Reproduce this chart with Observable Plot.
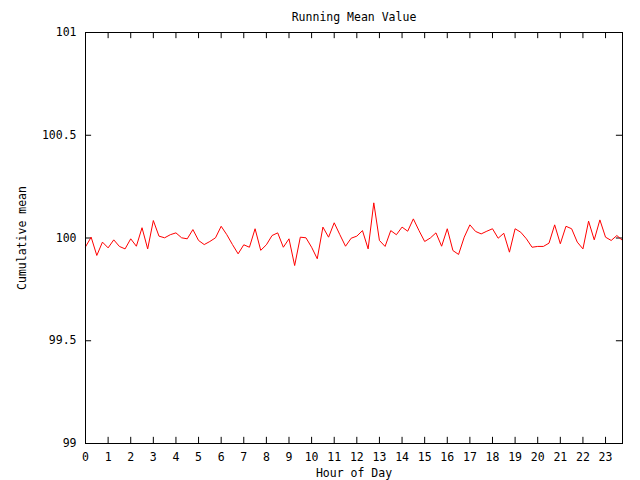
<!DOCTYPE html>
<html><head><meta charset="utf-8">
<script src="https://cdn.jsdelivr.net/npm/d3@7"></script>
<script src="https://cdn.jsdelivr.net/npm/@observablehq/plot@0.6"></script>
<style>body{margin:0;background:#fff} svg{display:block}</style>
</head><body><div id="chart"></div>
<script>
const title = "Running Mean Value";
const xLabel = "Hour of Day";
const yLabel = "Cumulative mean";
const hours = [0,0.25,0.5,0.75,1,1.25,1.5,1.75,2,2.25,2.5,2.75,3,3.25,3.5,3.75,
  4,4.25,4.5,4.75,5,5.25,5.5,5.75,6,6.25,6.5,6.75,7,7.25,7.5,7.75,
  8,8.25,8.5,8.75,9,9.25,9.5,9.75,10,10.25,10.5,10.75,11,11.25,11.5,11.75,
  12,12.25,12.5,12.75,13,13.25,13.5,13.75,14,14.25,14.5,14.75,15,15.25,15.5,15.75,
  16,16.25,16.5,16.75,17,17.25,17.5,17.75,18,18.25,18.5,18.75,19,19.25,19.5,19.75,
  20,20.25,20.5,20.75,21,21.25,21.5,21.75,22,22.25,22.5,22.75,23,23.25,23.5,23.75];
const meanValues = [99.957,100.004,99.915,99.98,99.952,99.991,99.959,99.947,99.996,99.96,100.05,99.947,
  100.085,100.009,100.001,100.016,100.025,100.001,99.996,100.041,99.988,99.968,99.983,100.001,
  100.057,100.016,99.968,99.923,99.967,99.955,100.045,99.94,99.967,100.012,100.025,99.955,
  99.996,99.866,100.004,100.001,99.955,99.899,100.053,100.004,100.074,100.016,99.96,99.999,
  100.009,100.036,99.947,100.171,99.988,99.959,100.036,100.016,100.053,100.033,100.093,100.036,
  99.983,100.0,100.025,99.96,100.045,99.939,99.92,100.004,100.064,100.032,100.02,100.033,
  100.045,99.999,100.023,99.931,100.045,100.028,99.996,99.955,99.959,99.959,99.975,100.064,
  99.972,100.057,100.045,99.98,99.947,100.082,99.991,100.088,100.004,99.988,100.012,99.988];
const xTicks = [0,1,2,3,4,5,6,7,8,9,10,11,12,13,14,15,16,17,18,19,20,21,22,23];
const xTickLabels = ["0","1","2","3","4","5","6","7","8","9","10","11","12","13","14","15","16","17","18","19","20","21","22","23"];
const yTicks = [99, 99.5, 100, 100.5, 101];
const yTickLabels = ["99","99.5","100","100.5","101"];
const xDomain = [0, 23.75];
const yDomain = [99, 101];

const data = hours.map((h, i) => ({hour: h, mean: meanValues[i]}));
const font = "'DejaVu Sans Mono', monospace";
const xTickLen = 0.27, yTickLen = 0.03;

const chart = Plot.plot({
  width: 640, height: 480,
  marginTop: 32, marginRight: 18, marginBottom: 37, marginLeft: 85,
  style: {fontFamily: font, fontSize: "11.5px", background: "#fff", color: "#000"},
  x: {domain: xDomain},
  y: {domain: yDomain},
  marks: [
    Plot.axisX(xTicks, {tickSize: 0, tickPadding: 9, label: xLabel, labelAnchor: "center", labelArrow: "none", labelOffset: 33,
      tickFormat: d => xTickLabels[xTicks.indexOf(d)]}),
    Plot.axisY(yTicks, {tickSize: 0, tickPadding: 9, label: yLabel, labelAnchor: "center", labelArrow: "none", labelOffset: 68,
      tickFormat: d => yTickLabels[yTicks.indexOf(d)]}),
    Plot.ruleX(xTicks, {x: d => d, y1: yDomain[0], y2: yDomain[0] + yTickLen, stroke: "#000"}),
    Plot.ruleX(xTicks, {x: d => d, y1: yDomain[1], y2: yDomain[1] - yTickLen, stroke: "#000"}),
    Plot.ruleY(yTicks, {y: d => d, x1: xDomain[0], x2: xDomain[0] + xTickLen, stroke: "#000"}),
    Plot.ruleY(yTicks, {y: d => d, x1: xDomain[1], x2: xDomain[1] - xTickLen, stroke: "#000"}),
    Plot.line(data, {x: "hour", y: "mean", stroke: "#ff0000", strokeWidth: 1}),
    Plot.frame({stroke: "#000", strokeWidth: 1}),
    Plot.text([title], {frameAnchor: "top", dy: -20, fill: "#000"})
  ]
});
document.getElementById("chart").appendChild(chart);
</script>
</body></html>
